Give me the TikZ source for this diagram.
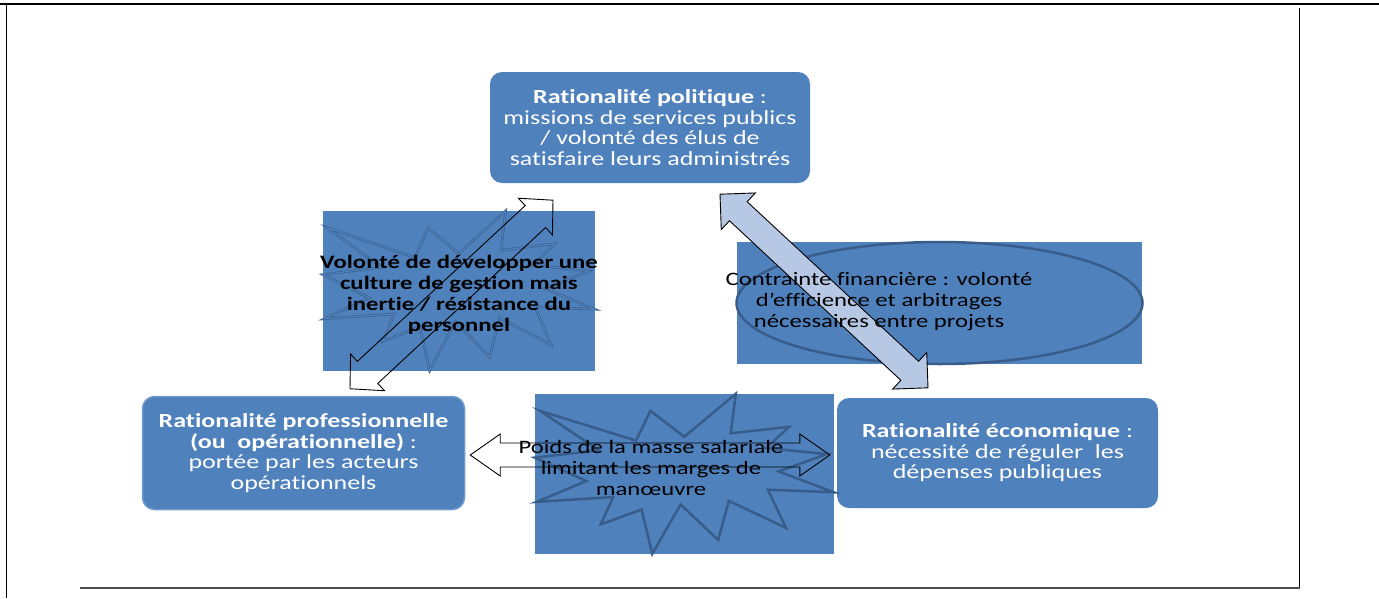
\documentclass[tikz,border=0pt]{standalone}
\usepackage{fontspec}
\setmainfont{Carlito}[FakeStretch=1.3, Ligatures={NoCommon}]
\usetikzlibrary{calc}
\definecolor{boxblue}{HTML}{4F81BD}
\definecolor{darkline}{HTML}{385D8A}
\definecolor{lightarrow}{HTML}{B7C8E4}
\definecolor{profedge}{HTML}{7099CC}
\definecolor{bottomrule}{HTML}{4D4D4D}
\newcommand\burstshape[4]{%
\begin{scope}[shift={(#1.north west)}, xscale=#2/216, yscale=#3/216]
\draw[#4] (108,58) -- (145.22,0) -- (141.55,53.25) -- (183.80,44.57) -- (167.02,73.15) -- (210.97,81.37) -- (176.07,104.75) -- (216,132.90) -- (168.37,129.42) -- (181.45,180.95) -- (140.20,144.57) -- (132.47,197.37) -- (105.32,149.35) -- (84.85,216) -- (77.15,156.27) -- (47.62,176.17) -- (56.67,139.37) -- (1.35,145.87) -- (37.22,117.75) -- (0,86.15) -- (46.27,76.17) -- (3.70,22.95) -- (73.12,63.20) -- (83.52,22.95) -- cycle;
\end{scope}}
\newcommand\blockarrow[6]{%
\coordinate (hda) at ($(#2)!#6!(#3)$);
\coordinate (hdb) at ($(#3)!#6!(#2)$);
\draw[#1] (#2) -- ($(hda)!#5!90:(#3)$) -- ($(hda)!#4!90:(#3)$) -- ($(hdb)!#4!-90:(#2)$) -- ($(hdb)!#5!-90:(#2)$) -- (#3) -- ($(hdb)!#5!90:(#2)$) -- ($(hdb)!#4!90:(#2)$) -- ($(hda)!#4!-90:(#3)$) -- ($(hda)!#5!-90:(#3)$) -- cycle;}
\begin{document}
\begin{tikzpicture}[x=1pt,y=-1pt,
  ratbox/.style={fill=boxblue, rounded corners=12pt, inner sep=0pt},
  bluerect/.style={fill=boxblue, inner sep=0pt},
  boxtext/.style={text=white, align=center, font=\fontsize{20}{20.5}\selectfont},
  midtext/.style={text=black, align=center, font=\fontsize{19}{21}\selectfont},
  burstline/.style={draw=darkline, line width=2.5pt, line join=miter},
  burstthin/.style={draw=darkline, line width=0.6pt, double=boxblue, double distance=1.2pt},
  outlinearrow/.style={draw=black, line width=0.9pt, line join=miter},
  filledarrow/.style={draw=black, fill=lightarrow, line width=0.9pt, line join=miter}]
\useasboundingbox (0,0) rectangle (1379,598);
\fill[white] (0,0) rectangle (1379,598);
% frame
\draw[line width=2.5pt] (0,4) -- (1379,4);
\draw[line width=1pt] (6.5,4) -- (6.5,598);
\draw[line width=1pt] (1299,8) -- (1299,588);
\draw[bottomrule, line width=2.5pt] (80,588) -- (1299.5,588);
% boxes
\node[ratbox, minimum width=320pt, minimum height=111pt] (pol) at (650,127.5) {};
\node[ratbox, draw=profedge, line width=1.5pt, minimum width=322pt, minimum height=113pt] (prof) at (303.5,453) {};
\node[ratbox, minimum width=321pt, minimum height=110pt] (eco) at (997.5,453) {};
\node[bluerect, minimum width=272pt, minimum height=160pt] (cult) at (459,291) {};
\node[bluerect, minimum width=405pt, minimum height=122pt] (fin) at (939.5,303) {};
\node[bluerect, minimum width=299pt, minimum height=160pt] (mass) at (684.5,474) {};
% bursts and ellipse
\burstshape{cult}{272}{160}{burstthin}
\burstshape{mass}{299}{160}{burstline}
\draw[darkline, line width=2.5pt] (fin.center) ellipse [x radius=203, y radius=61];
% arrows
\coordinate (la1) at ($(prof.north)+(46.5,-7)$);
\coordinate (la2) at ($(pol.south)+(-97,17)$);
\coordinate (ra1) at ($(pol.south)+(70,11)$);
\coordinate (ra2) at ($(eco.north)+(-69.5,-10)$);
\coordinate (ha1) at ($(prof.east)+(5,2)$);
\coordinate (ha2) at ($(eco.west)+(-7,2)$);
\blockarrow{outlinearrow}{la1}{la2}{15pt}{25pt}{24pt}
\blockarrow{filledarrow}{ra1}{ra2}{13pt}{25pt}{25pt}
\blockarrow{outlinearrow}{ha1}{ha2}{12pt}{21pt}{30pt}
% texts
\node[boxtext] (poltext) at (pol.center) {\textbf{Rationalité politique} :\\ missions de services publics\\ / volonté des élus de\\ satisfaire leurs administrés};
\node[boxtext] (proftext) at (prof.center) {\textbf{Rationalité professionnelle}\\ \textbf{(ou\ \ opérationnelle)} :\\ portée par les acteurs\\ opérationnels};
\node[boxtext] (ecotext) at (eco.center) {\textbf{Rationalité économique} :\\ nécessité de réguler\ \ les\\ dépenses publiques};
\node[midtext, font=\fontsize{19}{21}\selectfont\bfseries] (culttext) at (459,294.5) {Volonté de développer une\\ culture de gestion mais\\ inertie / résistance du\\ personnel};
\node[midtext] (fintext) at (879,302) {Contrainte financière : volonté\\ d’efficience et arbitrages\\ nécessaires entre projets};
\node[midtext] (masstext) at (651,468) {Poids de la masse salariale\\ limitant les marges de\\ manœuvre};
\end{tikzpicture}
\end{document}
